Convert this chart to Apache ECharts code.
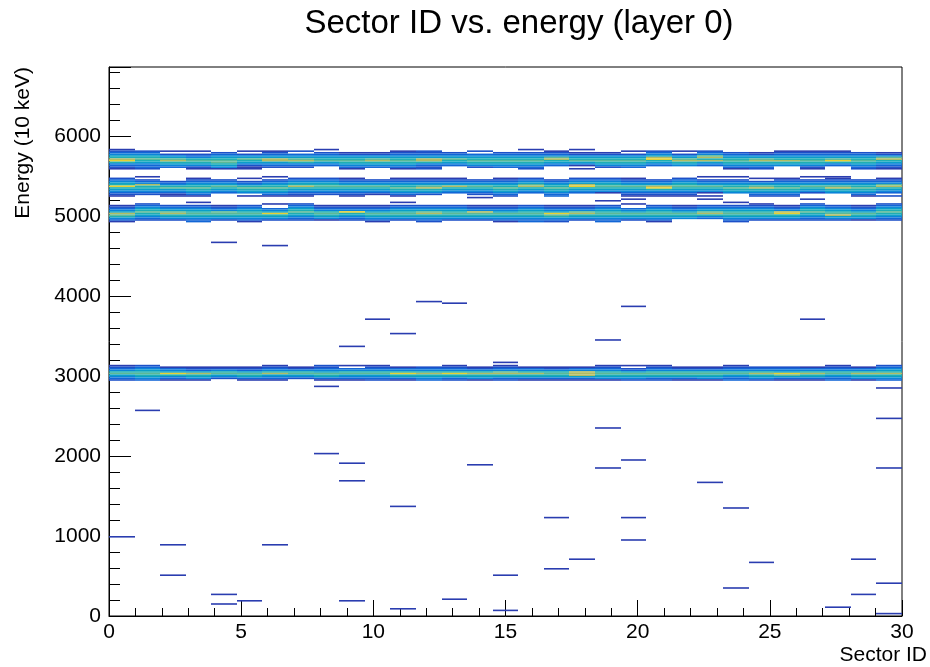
<!DOCTYPE html>
<html>
<head>
<meta charset="utf-8">
<title>Sector ID vs. energy (layer 0)</title>
<script src="https://cdn.jsdelivr.net/npm/echarts@6/dist/echarts.min.js"></script>
<style>
html, body { margin: 0; padding: 0; background: #fff; }
#chart { width: 930px; height: 667px; }
</style>
</head>
<body>
<div id="chart"></div>
<script>
// histogram binning: 31 sector bins spread over 0..30, energy bins of 20
var sectorBins = 31;
var xMax = 30;
var yMax = 6862;
var eBin = 20;

// bands: one string per sector bin, one digit per energy bin (colour level 0-9),
// read from the top edge of the band downwards
var band5700Top = 5840;
var band5700 = [
  "1234568964321", "0234567654332", "0102457865430", "0102346765421",
  "0023456776541", "0102457654211", "0123458854320", "0203457864320",
  "1023456754300", "0012456765431", "0012457865430", "0123456765431",
  "0223458864322", "0023457654300", "0203456765420", "0023456765430",
  "1023456765432", "0123478654300", "1012456754101", "0012456765420",
  "0102456765430", "0234589654300", "0102457865400", "0234786854300",
  "0023456765431", "0012457865432", "0123456865400", "0123456765421",
  "0123457964300", "0023456765432", "0012478654321"
];

var band5370Top = 5500;
var band5370 = [
  "0234569654321", "1023486654320", "0002346754311", "0123456765431",
  "0023457654300", "0102346765401", "1023456765431", "0234568654321",
  "0234567654320", "0123457654321", "0023457654310", "0123456765431",
  "0123457865420", "0123458654300", "0023457654320", "0123456765432",
  "0234578654300", "0023456765433", "0234589654300", "0234567654100",
  "0123457654321", "0023458964321", "0234567654321", "1023457654101",
  "1023456765400", "0102457865432", "0123456765432", "1023457654200",
  "1123457865400", "0023456765431", "0123478654302"
];

var band5050Top = 5180;
var band5050 = [
  "0012345876431", "0234567654320", "0023457865420", "1023456765433",
  "0012347765420", "0023456765431", "0100345965420", "0234567654320",
  "0012346765410", "0012349654320", "0012345765431", "1023456765420",
  "0023457865432", "0023456765420", "0012348765420", "0012345765431",
  "0023456765433", "0012345976432", "0012347865420", "0023456765433",
  "0100345765420", "0023456765431", "0012345765400", "0023457864300",
  "1023456765432", "0123456765420", "0012348965420", "0234567654320",
  "0023456785420", "0012345765410", "0234567654320"
];

var band3040Top = 3140;
var band3040 = [
  "1234675432", "2345676543", "0134596431", "0123586541",
  "0124675420", "0123576531", "1234685431", "0124675420",
  "2234576531", "1034675431", "1234675432", "0134696531",
  "0234686543", "1234696532", "0124686541", "1234786532",
  "0134686531", "0124676531", "0134888531", "1234676541",
  "1023576542", "1234676532", "0124676531", "0124676541",
  "1234675433", "0234686542", "0234597531", "0134686531",
  "1234675433", "0134686541", "2345686543"
];

// single hits outside the bands: [sector bin, energy]
var strayHits = [
  [0, 985], [1, 2560], [2, 887], [2, 500], [4, 4675], [4, 275], [4, 155],
  [5, 180], [6, 4625], [6, 887], [8, 2860], [8, 2025], [9, 3360], [9, 1900],
  [9, 1690], [9, 185], [10, 3710], [11, 3525], [11, 1360], [11, 84],
  [12, 3930], [13, 3905], [13, 200], [14, 1890], [14, 5225], [15, 3175],
  [15, 500], [15, 60], [17, 1225], [17, 590], [18, 712], [19, 3440],
  [19, 2350], [19, 1840], [19, 5190], [20, 3860], [20, 1940], [20, 1225],
  [20, 940], [20, 5215], [23, 1675], [23, 5215], [24, 1340], [24, 350],
  [25, 660], [27, 3700], [27, 5215], [28, 104], [29, 700], [29, 275],
  [30, 2840], [30, 2460], [30, 1840], [30, 400], [30, 25]
];

// colour levels 1..9 (ROOT bird-like palette)
var palette = ['#2a3db0', '#1c50c8', '#1266d6', '#0b84d8', '#0a9ec8',
               '#1eafb2', '#5cb996', '#b0bc62', '#e8d030'];

var font = '"Liberation Sans", Arial, sans-serif';

// build the cells [x0, x1, e0, e1, level]
var cells = [];
function sectorEdge(s) {
  return s * xMax / sectorBins;
}
function addBand(top, rows) {
  rows.forEach(function (str, s) {
    for (var i = 0; i < str.length; i++) {
      var lv = parseInt(str.charAt(i), 10);
      if (!lv) continue;
      var hi = top - i * eBin;
      cells.push([sectorEdge(s), sectorEdge(s + 1), hi - eBin, hi, lv]);
    }
  });
}
addBand(band5700Top, band5700);
addBand(band5370Top, band5370);
addBand(band5050Top, band5050);
addBand(band3040Top, band3040);
strayHits.forEach(function (h) {
  var lo = Math.floor(h[1] / eBin) * eBin;
  cells.push([sectorEdge(h[0]), sectorEdge(h[0] + 1), lo, lo + eBin, 1]);
});

function renderCell(params, api) {
  var p0 = api.coord([api.value(0), api.value(3)]);
  var p1 = api.coord([api.value(1), api.value(2)]);
  // snap the column edges to whole pixels so neighbours don't leave seams
  var x0 = Math.round(p0[0]);
  var x1 = Math.round(p1[0]);
  return {
    type: 'rect',
    shape: { x: x0, y: p0[1], width: x1 - x0, height: p1[1] - p0[1] },
    style: { fill: api.visual('color') }
  };
}

var chart = echarts.init(document.getElementById('chart'));

chart.setOption({
  animation: false,
  backgroundColor: '#fff',
  grid: {
    left: 109, right: 28, top: 67, bottom: 51,
    show: true, borderColor: '#000', borderWidth: 1
  },
  visualMap: {
    show: false, type: 'continuous', min: 1, max: 9, dimension: 4,
    seriesIndex: 0, inRange: { color: palette }
  },
  xAxis: [{
    type: 'value', min: 0, max: xMax, interval: 5, position: 'bottom',
    axisLine: { show: true, lineStyle: { color: '#000', width: 1 } },
    axisTick: { inside: true, length: 16, lineStyle: { color: '#000' } },
    axisLabel: { color: '#000', fontSize: 21, fontFamily: font, margin: 6 },
    splitLine: { show: false }
  }, {
    type: 'value', min: 0, max: xMax, interval: 1, position: 'bottom',
    axisLine: { show: false },
    axisTick: { inside: true, length: 8, lineStyle: { color: '#000' } },
    axisLabel: { show: false },
    splitLine: { show: false }
  }],
  yAxis: [{
    type: 'value', min: 0, max: yMax, interval: 1000, position: 'left',
    axisLine: { show: true, lineStyle: { color: '#000', width: 1 } },
    axisTick: { inside: true, length: 22, lineStyle: { color: '#000' } },
    axisLabel: {
      color: '#000', fontSize: 21, fontFamily: font, margin: 8,
      formatter: function (v) { return v % 1000 === 0 ? String(v) : ''; }
    },
    splitLine: { show: false }
  }, {
    type: 'value', min: 0, max: yMax, interval: 200, position: 'left',
    axisLine: { show: false },
    axisTick: { inside: true, length: 11, lineStyle: { color: '#000' } },
    axisLabel: { show: false },
    splitLine: { show: false }
  }],
  graphic: [{
    type: 'text', x: 519, y: 24,
    style: {
      text: 'Sector ID vs. energy (layer 0)', fill: '#000',
      font: '33px ' + font, textAlign: 'center', textVerticalAlign: 'middle'
    }
  }, {
    type: 'text', x: 23, y: 67, rotation: Math.PI / 2,
    style: {
      text: 'Energy (10 keV)', fill: '#000',
      font: '21px ' + font, textAlign: 'right', textVerticalAlign: 'middle'
    }
  }, {
    type: 'text', x: 927, y: 655,
    style: {
      text: 'Sector ID', fill: '#000',
      font: '21px ' + font, textAlign: 'right', textVerticalAlign: 'middle'
    }
  }],
  series: [{
    type: 'custom',
    coordinateSystem: 'cartesian2d',
    xAxisIndex: 0, yAxisIndex: 0,
    clip: true,
    encode: { x: [0, 1], y: [2, 3] },
    renderItem: renderCell,
    data: cells
  }]
});
</script>
</body>
</html>
